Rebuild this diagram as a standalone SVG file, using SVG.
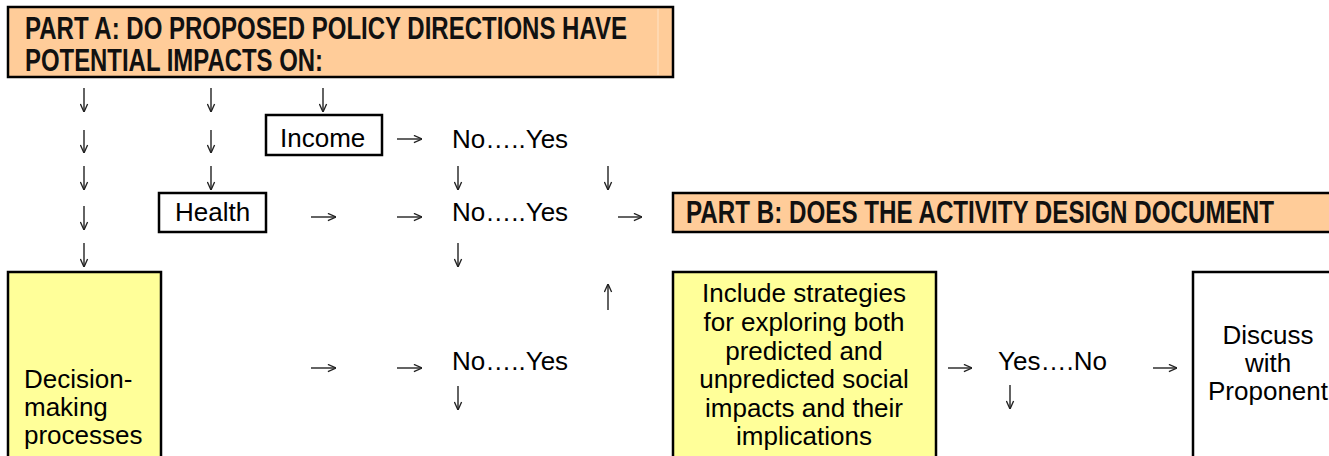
<svg xmlns="http://www.w3.org/2000/svg" width="1329" height="456" viewBox="0 0 1329 456">
<style>
.box{stroke:#000;stroke-width:2.5}
.peach{fill:#FFCC99}
.yellow{fill:#FFFF99}
.white{fill:#fff}
.t{font-family:"Liberation Sans",Arial,sans-serif;font-size:26px;fill:#000}
.h{font-family:"Liberation Sans",Arial,sans-serif;font-size:31px;font-weight:bold;fill:#111}
.c{text-anchor:middle}
.arr{fill:none;stroke:#222;stroke-width:1.4;marker-end:url(#ah)}
</style>
<defs>
<marker id="ah" viewBox="0 0 10 10" refX="10" refY="5" markerWidth="9" markerHeight="9" markerUnits="userSpaceOnUse" orient="auto">
<path d="M1,1 L10,5 L1,9" fill="none" stroke="#222" stroke-width="1.5"/>
</marker>
</defs>
<rect width="1329" height="456" fill="#fff"/>
<g id="partA">
<rect class="box peach" x="8" y="7" width="665" height="70"/>
<line x1="658" y1="9" x2="658" y2="75" stroke="#ffe4c8" stroke-width="1"/>
<text class="h" x="25" y="39" textLength="602" lengthAdjust="spacingAndGlyphs">PART A: DO PROPOSED POLICY DIRECTIONS HAVE</text>
<text class="h" x="25" y="71" textLength="298" lengthAdjust="spacingAndGlyphs">POTENTIAL IMPACTS ON:</text>
</g>
<g id="income">
<rect class="box white" x="266" y="115" width="116" height="40"/>
<text class="t" x="280" y="147">Income</text>
</g>
<g id="health">
<rect class="box white" x="159" y="193" width="107" height="39"/>
<text class="t" x="175" y="221">Health</text>
</g>
<g id="partB">
<rect class="box peach" x="673" y="193" width="680" height="39"/>
<text class="h" transform="translate(686,223) scale(0.8,1)" x="0" y="0" textLength="735" lengthAdjust="spacingAndGlyphs">PART B: DOES THE ACTIVITY DESIGN DOCUMENT</text>
</g>
<g id="decision">
<rect class="box yellow" x="8" y="272" width="153" height="200"/>
<text class="t" x="24" y="388">Decision-</text>
<text class="t" x="24" y="416">making</text>
<text class="t" x="24" y="444">processes</text>
</g>
<g id="include">
<rect class="box yellow" x="673" y="272" width="263" height="200"/>
<text class="t c" x="804" y="302">Include strategies</text>
<text class="t c" x="804" y="331">for exploring both</text>
<text class="t c" x="804" y="360">predicted and</text>
<text class="t c" x="804" y="388">unpredicted social</text>
<text class="t c" x="804" y="417">impacts and their</text>
<text class="t c" x="804" y="445">implications</text>
</g>
<g id="discuss">
<rect class="box white" x="1193" y="272" width="160" height="200"/>
<text class="t c" x="1268" y="344">Discuss</text>
<text class="t c" x="1268" y="372">with</text>
<text class="t c" x="1268" y="400">Proponent</text>
</g>
<g id="decisions">
<text class="t" x="452" y="148">No…..Yes</text>
<text class="t" x="452" y="221">No…..Yes</text>
<text class="t" x="452" y="370">No…..Yes</text>
<text class="t" x="998" y="370">Yes….No</text>
</g>
<g id="connectors">
<path class="arr" d="M84,88 V112"/>
<path class="arr" d="M211,88 V112"/>
<path class="arr" d="M323,88 V112"/>
<path class="arr" d="M84,130 V153"/>
<path class="arr" d="M211,130 V153"/>
<path class="arr" d="M84,166 V190"/>
<path class="arr" d="M211,166 V190"/>
<path class="arr" d="M458,166 V190"/>
<path class="arr" d="M608,166 V190"/>
<path class="arr" d="M84,206 V230"/>
<path class="arr" d="M84,243 V267"/>
<path class="arr" d="M458,243 V267"/>
<path class="arr" d="M608,310 V284"/>
<path class="arr" d="M458,386 V410"/>
<path class="arr" d="M1010,385 V409"/>
<path class="arr" d="M397,139 H422"/>
<path class="arr" d="M311,217 H336"/>
<path class="arr" d="M397,217 H422"/>
<path class="arr" d="M618,217 H642"/>
<path class="arr" d="M311,368 H336"/>
<path class="arr" d="M397,368 H422"/>
<path class="arr" d="M948,368 H972"/>
<path class="arr" d="M1153,368 H1177"/>
</g>
</svg>
